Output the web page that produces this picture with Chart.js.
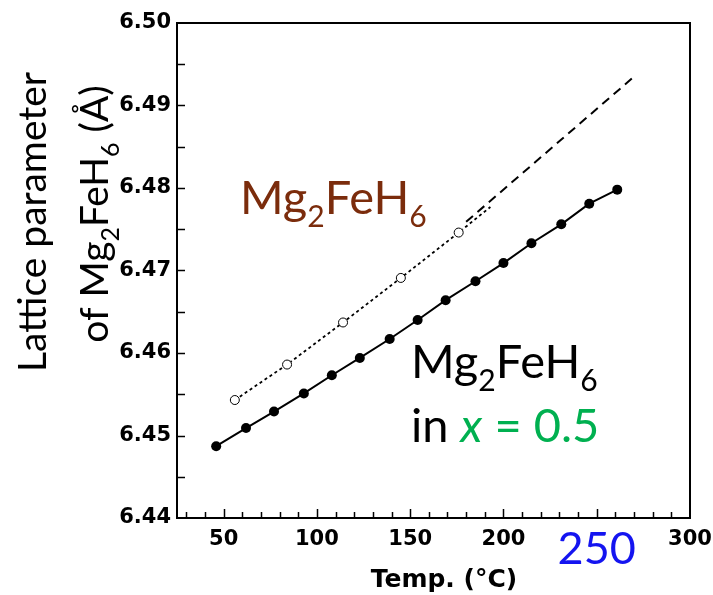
<!DOCTYPE html>
<html lang="en">
<head>
<meta charset="UTF-8">
<title>Lattice parameter of Mg2FeH6</title>
<script src="https://cdn.jsdelivr.net/npm/chart.js"></script>
<style>
  html, body { margin: 0; padding: 0; background: #fff; }
  #wrap { width: 713px; height: 595px; }
</style>
</head>
<body>
<div id="wrap"><canvas id="latticeChart"></canvas></div>
<script>
  // Mg2FeH6 in the x = 0.5 sample (filled circles, solid line)
  const solidTemp = [46, 62, 77, 93, 108, 123, 139, 154, 169, 185, 200, 215, 231, 246, 261];
  const solidLattice = [6.4487, 6.4509, 6.4529, 6.4551, 6.4573, 6.4594, 6.4617, 6.4640,
                        6.4664, 6.4687, 6.4709, 6.4733, 6.4756, 6.4781, 6.4798];

  // pure Mg2FeH6 (open circles, dotted line running a little past the last one)
  const openTemp = [56, 84, 114, 145, 176];
  const openLattice = [6.4543, 6.4586, 6.4637, 6.4691, 6.4746];
  const dottedEndTemp = 193;
  const dottedEndLattice = 6.4777;

  // dashed extrapolation
  const dashTemp = [180, 269];
  const dashLattice = [6.4759, 6.4933];

  const xTicks = [50, 100, 150, 200, 250, 300];
  const yTicks = [6.44, 6.45, 6.46, 6.47, 6.48, 6.49, 6.50];

  const toPts = (xs, ys) => xs.map((x, i) => ({ x: x, y: ys[i] }));
  const openPts = toPts(openTemp, openLattice).concat([{ x: dottedEndTemp, y: dottedEndLattice }]);

  const tickFont = { family: 'DejaVu Sans', size: 21, weight: 'bold', lineHeight: 1.2 };
  const blueFont = { family: 'Lato', size: 45, weight: 'normal', lineHeight: 1 };
  const textFamily = 'Lato';

  // text pieces with subscripts / italics, drawn left to right from (x, y) baseline
  function richWidth(ctx, parts, size) {
    let w = 0;
    parts.forEach(p => {
      const s = p.sub ? size * 0.64 : size;
      ctx.font = (p.italic ? 'italic ' : '') + s + 'px ' + textFamily;
      w += ctx.measureText(p.t).width;
    });
    return w;
  }
  function drawRich(ctx, parts, x, y, size, color) {
    parts.forEach(p => {
      const s = p.sub ? size * 0.64 : size;
      ctx.font = (p.italic ? 'italic ' : '') + s + 'px ' + textFamily;
      ctx.fillStyle = p.color || color;
      ctx.fillText(p.t, x, p.sub ? y + size * 0.28 : y);
      x += ctx.measureText(p.t).width;
    });
  }

  const mgFeH6 = [{ t: 'Mg' }, { t: '2', sub: true }, { t: 'FeH' }, { t: '6', sub: true }];

  const framePlugin = {
    id: 'frame',
    afterDraw(chart) {
      const ctx = chart.ctx;
      const a = chart.chartArea;
      const xs = chart.scales.x, ys = chart.scales.y;
      ctx.save();
      ctx.strokeStyle = '#000';
      ctx.lineWidth = 2;
      ctx.strokeRect(a.left, a.top, a.right - a.left, a.bottom - a.top);

      // inward tick marks
      ctx.lineWidth = 1.5;
      ctx.beginPath();
      for (let v = 30; v < 300; v += 10) {
        const px = Math.round(xs.getPixelForValue(v)) + 0.5;
        const len = v % 50 === 0 ? 9 : 6;
        ctx.moveTo(px, a.bottom);
        ctx.lineTo(px, a.bottom - len);
      }
      for (let k = 1; k < 12; k++) {
        const py = Math.round(ys.getPixelForValue(6.44 + k * 0.005)) + 0.5;
        ctx.moveTo(a.left, py);
        ctx.lineTo(a.left + 8, py);
      }
      ctx.stroke();

      // axis titles
      ctx.textBaseline = 'alphabetic';
      ctx.fillStyle = '#000';
      ctx.font = 'bold 25px "DejaVu Sans"';
      ctx.textAlign = 'center';
      ctx.fillText('Temp. (\u00B0C)', 444, 587);
      ctx.textAlign = 'left';

      const line1 = [{ t: 'Lattice parameter' }];
      const line2 = [{ t: 'of ' }].concat(mgFeH6, [{ t: ' (\u00C5)' }]);
      ctx.save();
      ctx.translate(46, 222);
      ctx.rotate(-Math.PI / 2);
      drawRich(ctx, line1, -richWidth(ctx, line1, 39) / 2, 0, 39, '#000');
      ctx.restore();
      ctx.save();
      ctx.translate(108, 214);
      ctx.rotate(-Math.PI / 2);
      drawRich(ctx, line2, -richWidth(ctx, line2, 39) / 2, 0, 39, '#000');
      ctx.restore();

      // labels inside the plot
      drawRich(ctx, mgFeH6, 240, 214, 47, '#7B2C0C');
      drawRich(ctx, mgFeH6, 411, 378, 47, '#000');
      drawRich(ctx, [{ t: 'in ' }, { t: 'x', italic: true, color: '#00B050' },
                     { t: ' = 0.5', color: '#00B050' }], 411, 442, 47, '#000');
      ctx.restore();
    }
  };

  const ctx = document.getElementById('latticeChart').getContext('2d');
  const chart = new Chart(ctx, {
    type: 'scatter',
    data: {
      datasets: [
        {
          label: 'Mg2FeH6 in x = 0.5',
          data: toPts(solidTemp, solidLattice),
          showLine: true,
          borderColor: '#000',
          backgroundColor: '#000',
          borderWidth: 2,
          pointRadius: 5,
          pointBorderWidth: 0
        },
        {
          label: 'Mg2FeH6',
          data: openPts,
          showLine: true,
          borderColor: '#000',
          backgroundColor: '#fff',
          borderWidth: 1.8,
          borderDash: [3, 3],
          pointRadius: c => (c.dataIndex < openTemp.length ? 4.5 : 0),
          pointBorderWidth: 1,
          pointBorderColor: '#000'
        },
        {
          label: 'extrapolation',
          data: toPts(dashTemp, dashLattice),
          showLine: true,
          borderColor: '#000',
          borderWidth: 2,
          borderDash: [9, 6],
          pointRadius: 0
        }
      ]
    },
    options: {
      responsive: true,
      maintainAspectRatio: false,
      animation: false,
      layout: { padding: { top: 23, right: 23, left: 0, bottom: 0 } },
      plugins: {
        legend: { display: false },
        tooltip: { enabled: false }
      },
      scales: {
        x: {
          type: 'linear',
          min: 25,
          max: 300,
          grid: { display: false, drawTicks: false },
          border: { display: false },
          afterBuildTicks: s => { s.ticks = xTicks.map(v => ({ value: v })); },
          afterFit: s => { s.height = 77; s.paddingLeft = 0; s.paddingRight = 0; },
          ticks: {
            padding: 9,
            maxRotation: 0,
            color: c => (c.tick && c.tick.value === 250 ? '#1414F0' : '#000'),
            font: c => (c.tick && c.tick.value === 250 ? blueFont : tickFont)
          }
        },
        y: {
          type: 'linear',
          min: 6.44,
          max: 6.50,
          grid: { display: false, drawTicks: false },
          border: { display: false },
          afterBuildTicks: s => { s.ticks = yTicks.map(v => ({ value: v })); },
          afterFit: s => { s.width = 177; s.paddingTop = 0; s.paddingBottom = 0; },
          ticks: {
            padding: 6,
            color: '#000',
            font: tickFont,
            callback: v => v.toFixed(2)
          }
        }
      }
    },
    plugins: [framePlugin]
  });
</script>
</body>
</html>
